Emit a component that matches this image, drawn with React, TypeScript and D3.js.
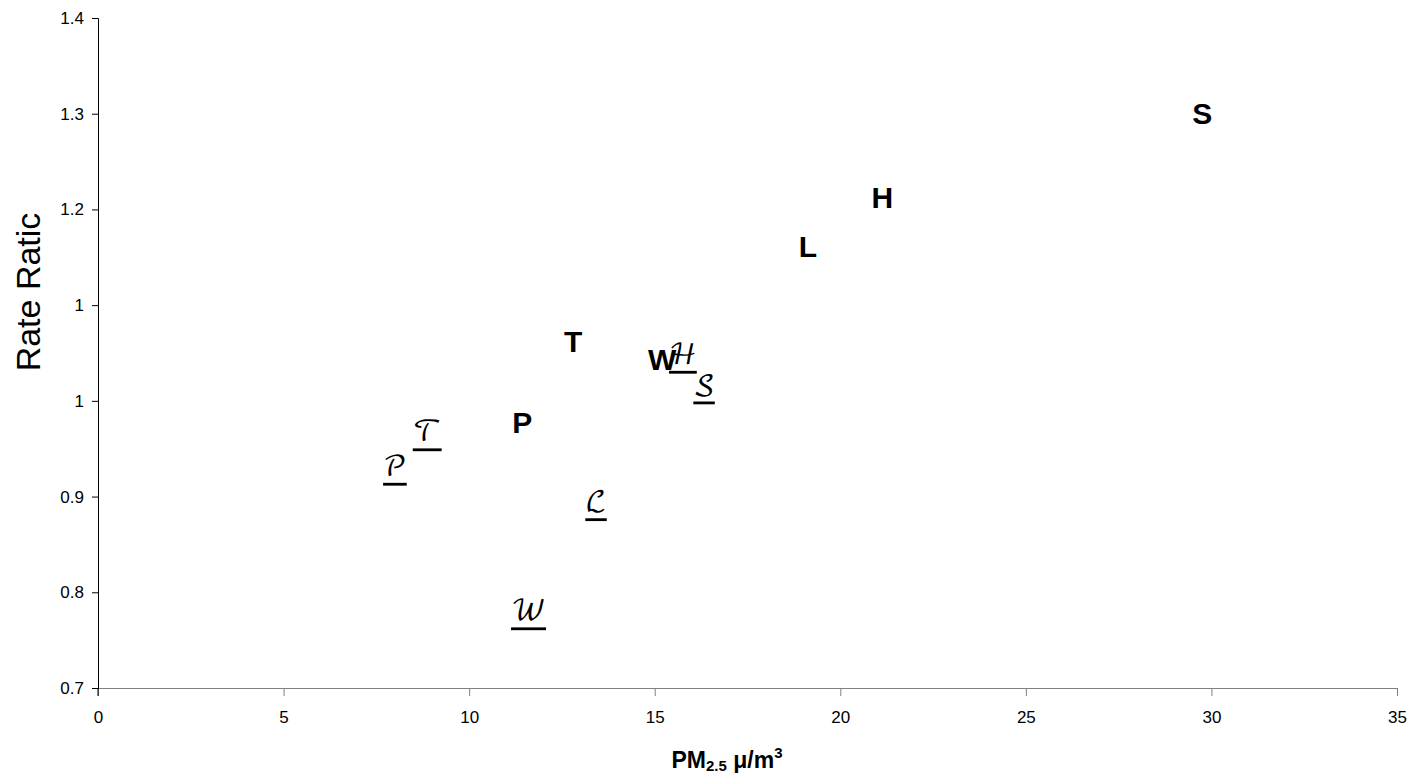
import React, { useEffect, useRef } from "react";
import * as d3 from "d3";

// bold site labels
const boldLabels = ["S", "H", "L", "T", "W", "P"];
const boldX = [29.75, 21.13, 19.13, 12.8, 15.2, 11.43];
const boldY = [1.3, 1.212, 1.161, 1.062, 1.043, 0.977];

// script (underlined) site labels
const scriptLabels = ["𝒯", "𝒫", "ℒ", "𝒲", "ℋ", "𝒮"];
const scriptX = [8.87, 8.0, 13.42, 11.6, 15.76, 16.33];
const scriptY = [0.966, 0.93, 0.893, 0.779, 1.047, 1.015];

const xTicks = [0, 5, 10, 15, 20, 25, 30, 35];
const yTicks = [0.7, 0.8, 0.9, 1.0, 1.1, 1.2, 1.3, 1.4];
const yTickLabels = ["0.7", "0.8", "0.9", "1", "1", "1.2", "1.3", "1.4"];

export default function App() {
  const ref = useRef<SVGSVGElement>(null);

  useEffect(() => {
    const svg = d3.select(ref.current);
    svg.selectAll("*").remove();
    const font = "Liberation Sans, Arial, sans-serif";

    const x = d3.scaleLinear().domain([0, 35]).range([98, 1397]);
    const y = d3.scaleLinear().domain([0.7, 1.4]).range([688, 18]);

    // x axis (grey)
    const gx = svg.append("g").attr("transform", "translate(0,688)")
      .call(d3.axisBottom(x).tickValues(xTicks).tickSizeOuter(0).tickSize(8).tickPadding(15));
    gx.select(".domain").attr("stroke", "#808080");
    gx.selectAll(".tick line").attr("stroke", "#808080");
    gx.selectAll(".tick text").attr("font-size", 17).attr("font-family", font).attr("fill", "#000");

    // y axis (black)
    const gy = svg.append("g").attr("transform", "translate(98,0)")
      .call(d3.axisLeft(y).tickValues(yTicks).tickSizeOuter(0).tickSize(6).tickPadding(8)
        .tickFormat((d, i) => yTickLabels[i]));
    gy.select(".domain").attr("stroke", "#000");
    gy.selectAll(".tick line").attr("stroke", "#000");
    gy.selectAll(".tick text").attr("font-size", 17).attr("font-family", font).attr("fill", "#000");
    gy.append("line").attr("x1", 0).attr("x2", 0).attr("y1", 688).attr("y2", 696).attr("stroke", "#000");

    // bold labels
    svg.append("g").selectAll("text").data(boldLabels).enter().append("text")
      .attr("x", (d, i) => x(boldX[i]))
      .attr("y", (d, i) => y(boldY[i]))
      .attr("text-anchor", "middle")
      .attr("dominant-baseline", "central")
      .attr("font-family", font)
      .attr("font-weight", "bold")
      .attr("font-size", 30)
      .text(d => d);

    // script labels
    svg.append("g").selectAll("text").data(scriptLabels).enter().append("text")
      .attr("x", (d, i) => x(scriptX[i]))
      .attr("y", (d, i) => y(scriptY[i]))
      .attr("text-anchor", "middle")
      .attr("dominant-baseline", "central")
      .attr("font-family", "DejaVu Math TeX Gyre, DejaVu Serif, serif")
      .attr("font-size", 28)
      .style("text-decoration", "underline")
      .text(d => d);

    // axis titles
    svg.append("text")
      .attr("transform", "translate(40,292) rotate(-90)")
      .attr("text-anchor", "middle")
      .attr("font-family", font)
      .attr("font-size", 34)
      .text("Rate Ratic");

    const xt = svg.append("text")
      .attr("x", 727).attr("y", 768)
      .attr("text-anchor", "middle")
      .attr("font-family", font)
      .attr("font-weight", "bold")
      .attr("font-size", 23);
    xt.append("tspan").text("PM");
    xt.append("tspan").attr("font-size", 15).attr("dy", 3).text("2.5");
    xt.append("tspan").attr("dy", -3).text(" μ/m");
    xt.append("tspan").attr("font-size", 15).attr("dy", -10).text("3");
  }, []);

  return (
    <div style={{ position: "absolute", left: 0, top: 0 }}>
      <svg ref={ref} width={1420} height={778} style={{ display: "block", background: "#fff" }} />
    </div>
  );
}
